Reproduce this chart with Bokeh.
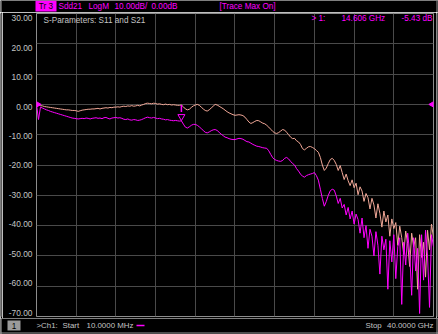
import numpy as np
from bokeh.plotting import figure
from bokeh.layouts import column, row
from bokeh.models import (Range1d, LinearAxis, FixedTicker, PrintfTickFormatter,
                          Grid, Label, Span)
from bokeh.embed import file_html
from bokeh.resources import INLINE

# ---------------- data ----------------
freq_start_ghz = 0.01
freq_stop_ghz = 40.0
n_points = 201
y_ticks = [30, 20, 10, 0, -10, -20, -30, -40, -50, -60, -70]
x_grid = [4, 8, 12, 16, 20, 24, 28, 32, 36]

s21_pink = [
    0.0, -0.2, -0.4, -0.5, -0.7, -0.8, -0.9, -1.0, -1.1, -1.2,
    -1.3, -1.4, -1.5, -1.6, -1.7, -1.8, -1.8, -1.9, -2.0, -2.0,
    -2.1, -2.3, -2.1, -1.9, -1.8, -1.7, -1.6, -1.6, -1.5, -1.5,
    -1.4, -1.3, -1.5, -1.3, -1.2, -1.1, -1.2, -1.0, -1.1, -0.9,
    -0.9, -0.8, -0.9, -0.7, -0.6, -0.7, -0.5, -0.6, -0.4, -0.6,
    -0.5, -0.3, -0.5, -0.2, 0.0, 0.3, 0.4, 0.3, 0.2, 0.4,
    0.3, 0.1, 0.2, 0.0, -0.1, 0.1, -0.1, 0.0, -0.2, -0.1,
    -0.2, -0.3, -0.3, -0.2, -0.8, -1.5, -1.8, -1.6, -1.0, -0.5,
    -0.2, 0.0, -0.3, -0.9, -1.5, -2.0, -2.2, -1.8, -1.2, -0.6,
    0.0, -0.2, -0.6, -1.0, -1.4, -1.9, -2.4, -2.8, -3.1, -3.4,
    -3.6, -3.5, -3.4, -3.5, -3.7, -4.2, -5.0, -5.8, -6.3, -6.0,
    -5.6, -5.3, -5.4, -5.8, -6.2, -6.4, -6.9, -7.5, -8.2, -8.9,
    -9.4, -9.6, -9.3, -8.8, -8.3, -8.5, -9.2, -10.0, -10.8, -11.3,
    -11.2, -12.0, -12.4, -13.2, -14.6, -15.0, -14.5, -14.0, -13.9, -14.2,
    -14.6, -15.2, -15.8, -17.5, -20.0, -21.8, -21.0, -19.5, -18.2, -17.8,
    -18.5, -19.8, -21.8, -20.2, -22.5, -24.8, -23.0, -25.2, -26.8, -24.9,
    -27.5, -26.0, -29.8, -27.2, -28.6, -32.0, -29.4, -30.8, -34.5, -31.0,
    -33.2, -37.5, -32.8, -36.0, -40.5, -35.2, -38.8, -36.5, -43.5, -37.8,
    -41.0, -39.0, -46.5, -40.2, -44.0, -49.5, -41.8, -46.0, -53.5, -42.5,
    -47.0, -44.0, -61.0, -43.0, -50.5, -45.5, -57.0, -41.5, -48.0, -39.5,
    -44.0,
]

sdd21_magenta = [
    0.0, -5.0, -0.9, -1.2, -1.5, -1.8, -2.0, -2.3, -2.5, -2.7,
    -2.9, -3.1, -3.3, -3.5, -3.7, -3.9, -4.1, -4.3, -4.5, -4.6,
    -4.7, -4.8, -4.7, -4.6, -4.7, -4.5, -4.6, -4.8, -4.6, -4.5,
    -4.4, -4.6, -4.5, -4.7, -4.4, -4.3, -4.6, -4.8, -4.5, -4.4,
    -4.3, -4.5, -4.4, -4.6, -4.9, -5.0, -4.8, -5.1, -5.2, -5.0,
    -5.1, -5.3, -5.2, -5.0, -4.7, -4.4, -4.2, -4.4, -4.5, -4.3,
    -4.5, -4.7, -4.6, -4.8, -4.9, -5.1, -5.0, -5.2, -5.3, -5.4,
    -5.3, -5.4, -5.5, -5.43, -6.5, -7.5, -7.8, -7.4, -6.9, -6.6,
    -6.6, -6.9, -7.4, -8.0, -8.6, -9.2, -9.4, -9.1, -8.7, -8.4,
    -8.3, -8.6, -9.2, -9.8, -10.3, -10.8, -11.0, -11.3, -11.5, -11.6,
    -11.6, -11.4, -11.2, -11.3, -11.5, -11.9, -12.3, -12.4, -12.8, -13.2,
    -13.5, -13.8, -13.9, -14.1, -14.3, -14.4, -14.5, -15.3, -16.5, -17.6,
    -18.2, -18.5, -18.7, -18.8, -18.5, -17.8, -17.5, -18.0, -18.8, -19.5,
    -20.0, -21.2, -22.0, -23.0, -23.7, -24.0, -23.5, -23.2, -23.0, -22.8,
    -22.5, -23.5, -25.0, -28.0, -31.0, -33.6, -32.0, -30.0, -28.5, -28.0,
    -28.3, -30.2, -32.7, -31.0, -34.2, -33.0, -36.5, -34.0, -37.8, -35.2,
    -39.5, -36.2, -38.0, -42.5, -37.5, -44.0, -40.0, -47.5, -41.2, -43.5,
    -50.0, -42.0, -46.5, -56.0, -43.5, -48.0, -44.5, -61.0, -45.0, -52.0,
    -43.0, -57.5, -47.0, -44.0, -66.0, -45.5, -53.0, -42.5, -49.0, -63.0,
    -44.0, -55.0, -47.5, -69.0, -43.0, -58.0, -41.5, -50.0, -67.0, -43.0,
    -47.0,
]

marker_freq_ghz = 14.606
marker_db = -5.43

freq = np.linspace(freq_start_ghz, freq_stop_ghz, n_points)

# ---------------- styles ----------------
FONT = "Liberation Sans"
FS = "8.2px"
FS_NUM = "7.9px"
GRAY_TXT = "#c4c4c4"
MAG = "#ff00ff"
EDGE = "#9a9a9a"


def strip(w, h):
    f = figure(width=w, height=h, output_backend="svg", toolbar_location=None, tools="",
               x_range=Range1d(0, w), y_range=Range1d(0, h),
               x_axis_location=None, y_axis_location=None,
               background_fill_color="black", border_fill_color="black",
               min_border=0, min_border_left=0, min_border_right=0,
               min_border_top=0, min_border_bottom=0, outline_line_color=None)
    f.center = [r for r in f.center if not isinstance(r, Grid)]
    return f


def lab(fig, text, x, y, color=GRAY_TXT, align="left", size=FS, **kw):
    fig.add_layout(Label(text=text, x=x, y=y, text_font=FONT, text_font_size=size,
                         text_color=color, text_align=align, text_baseline="middle", **kw))


# ---------------- main plot ----------------
p = figure(width=434, height=306, output_backend="svg", toolbar_location=None, tools="",
           x_range=Range1d(freq_start_ghz, freq_stop_ghz), y_range=Range1d(-70, 30),
           x_axis_location=None, y_axis_location=None,
           background_fill_color="black", border_fill_color="black",
           min_border_left=34, min_border_right=3, min_border_top=1, min_border_bottom=2,
           outline_line_color="#8c8c8c", outline_line_width=1)

p.center = [r for r in p.center if not isinstance(r, Grid)]
p.add_layout(Grid(dimension=0, ticker=FixedTicker(ticks=x_grid), grid_line_color="#4a4a4a"))
p.add_layout(Grid(dimension=1, ticker=FixedTicker(ticks=y_ticks), grid_line_color="#4a4a4a"))

p.extra_y_ranges = {"lab": Range1d(-71.36, 31.7)}
ax = LinearAxis(y_range_name="lab", ticker=FixedTicker(ticks=y_ticks),
                formatter=PrintfTickFormatter(format="%.2f"),
                axis_line_color=None, major_tick_line_color=None, minor_tick_line_color=None,
                major_tick_out=0, minor_tick_out=0, major_tick_in=0, minor_tick_in=0,
                major_label_text_color=GRAY_TXT, major_label_text_font=FONT,
                major_label_text_font_size="8.4px", major_label_standoff=4)
p.add_layout(ax, "left")

p.line(freq, s21_pink, line_color="#f2a898", line_width=1)
p.line(freq, sdd21_magenta, line_color=MAG, line_width=1)

# markers
step = freq[1] - freq[0]
pink_at_marker = s21_pink[int(round((marker_freq_ghz - freq_start_ghz) / step))]
p.segment([marker_freq_ghz], [pink_at_marker], [marker_freq_ghz], [pink_at_marker - 2.3],
          line_color=MAG, line_width=1.5)
p.scatter([marker_freq_ghz], [marker_db + 1.4], marker="inverted_triangle", size=7,
          fill_color=None, line_color=MAG, line_width=1)
# reference-level arrows at both edges
p.scatter([freq_start_ghz], [0], marker="triangle", angle=-np.pi / 2, size=8,
          fill_color=MAG, line_color=MAG)
p.scatter([freq_stop_ghz], [0], marker="triangle", angle=np.pi / 2, size=8,
          fill_color=MAG, line_color=MAG)

# texts inside the grid
p.add_layout(Label(text="S-Parameters: S11 and S21", x=7, y=296, x_units="screen",
                   y_units="screen", text_font=FONT, text_font_size="8.2px",
                   text_color=GRAY_TXT, text_baseline="middle"))
for txt, xx, al in [("> 1:", 275, "left"),
                    ("%.3f GHz" % marker_freq_ghz, 305, "left"),
                    ("%.2f dB" % marker_db, 396, "right")]:
    p.add_layout(Label(text=txt, x=xx, y=298, x_units="screen", y_units="screen",
                       text_font=FONT, text_font_size=FS, text_color=MAG,
                       text_align=al, text_baseline="middle"))

# ---------------- top bar ----------------
top = strip(438, 12)
top.quad(left=35, right=56, bottom=1, top=12, fill_color=MAG, line_color=None)
lab(top, "Tr 3", 45.5, 6, color="black", align="center")
lab(top, "Sdd21", 58, 6, color=MAG)
lab(top, "LogM", 88, 6, color=MAG)
lab(top, "10.00dB/", 114, 6, color=MAG)
lab(top, "0.00dB", 151, 6, color=MAG)
lab(top, "[Trace Max On]", 219, 6, color=MAG)
top.add_layout(Span(location=1, dimension="height", line_color="#5a5a5a", line_width=1))
top.add_layout(Span(location=436.5, dimension="height", line_color=EDGE, line_width=1))

# ---------------- side edges ----------------
left = strip(2, 306)
left.add_layout(Span(location=1, dimension="height", line_color="#5a5a5a", line_width=1))
right = strip(2, 306)
right.add_layout(Span(location=0.5, dimension="height", line_color=EDGE, line_width=1))

# ---------------- bottom bar ----------------
bot = strip(438, 16)
bot.quad(left=7, right=20, bottom=4, top=14, fill_color="#9a9a9a", line_color=None)
lab(bot, "1", 13.5, 9, color="black", align="center")
lab(bot, ">Ch1:", 36, 9, size=FS_NUM)
lab(bot, "Start", 62, 9, size=FS_NUM)
lab(bot, "10.0000 MHz", 86, 9, size=FS_NUM)
bot.segment([136], [9], [144], [9], line_color=MAG, line_width=1.5)
lab(bot, "Stop", 365, 9, size=FS_NUM)
lab(bot, "40.0000 GHz", 433, 9, align="right", size=FS_NUM)
bot.add_layout(Span(location=1, dimension="height", line_color="#5a5a5a", line_width=1))
bot.add_layout(Span(location=436.5, dimension="height", line_color=EDGE, line_width=1))
bot.add_layout(Span(location=1.5, dimension="width", line_color=EDGE, line_width=1))

layout = column(top, row(left, p, right, spacing=0), bot, spacing=0)

open("out.html", "w").write(file_html(layout, INLINE))
